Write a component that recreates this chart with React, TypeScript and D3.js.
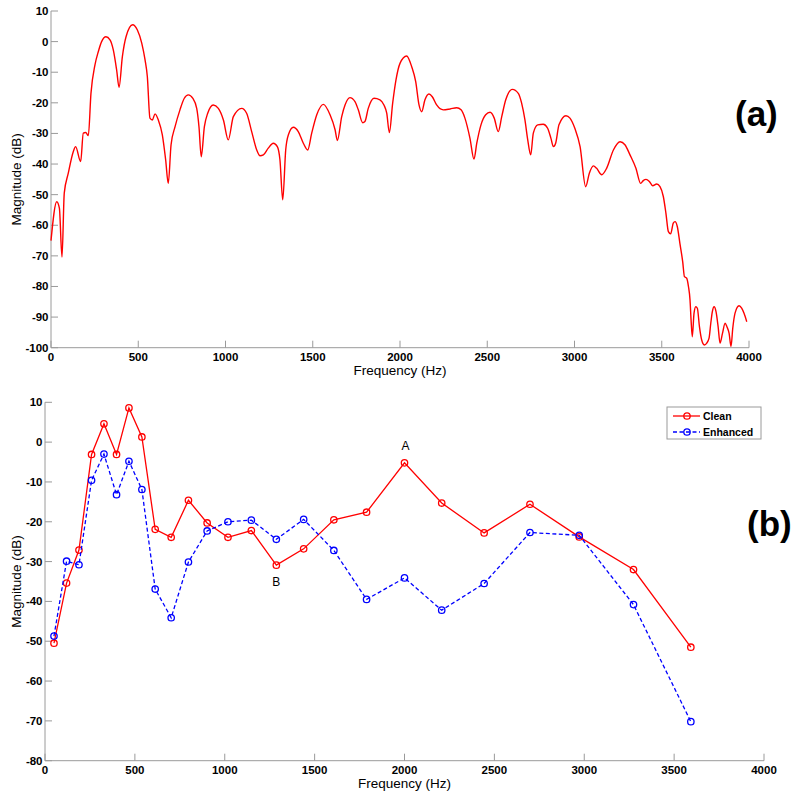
import React from "react";
import * as d3 from "d3";

// Panel (a): magnitude spectrum
const freqA = [0,33,48,63,76,99,128,141,170,185,199,214,229,252,271,290,315,338,357,376,390,409,430,468,495,520,539,552,567,581,596,615,638,657,672,688,711,739,764,787,812,835,848,861,879,898,930,959,988,1016,1045,1093,1121,1150,1179,1198,1217,1245,1274,1297,1312,1328,1345,1360,1389,1417,1446,1471,1494,1523,1561,1599,1628,1641,1666,1685,1713,1742,1761,1786,1799,1818,1851,1885,1908,1924,1939,1958,1977,2000,2038,2067,2090,2109,2124,2143,2166,2185,2210,2248,2287,2325,2350,2372,2401,2424,2440,2464,2491,2516,2540,2563,2583,2606,2644,2678,2697,2716,2732,2749,2764,2789,2821,2846,2865,2879,2892,2911,2951,2974,3003,3032,3064,3085,3108,3127,3156,3184,3223,3261,3289,3318,3352,3379,3394,3410,3429,3448,3471,3490,3509,3524,3538,3551,3566,3576,3589,3604,3620,3630,3643,3653,3662,3668,3675,3685,3695,3704,3716,3729,3744,3758,3771,3781,3790,3800,3811,3823,3834,3848,3863,3873,3886,3897,3907,3920,3943,3958,3971,3987];
const magA = [-65,-52.3,-54.4,-70.4,-49.5,-43,-35.9,-34.3,-39.2,-29.9,-29.7,-30.7,-16.9,-7.6,-3.3,0,1.6,0.6,-2.7,-9.2,-14.9,-4.9,1.6,5.5,3.8,-0.5,-6,-11.4,-25,-25.6,-23.6,-25.6,-30.5,-38.6,-46.3,-33.7,-27.8,-22.3,-18.5,-17.4,-18.5,-21.8,-27.8,-37.6,-27.8,-23.4,-20.7,-21.8,-25.6,-32.1,-24.5,-21.8,-23.4,-29.4,-35.4,-37.3,-37,-34.8,-33.2,-34.3,-38.6,-51.7,-35.4,-30.5,-28,-29.4,-33.2,-35.4,-29.9,-23.9,-20.5,-23.9,-28.8,-32.3,-24.5,-20.7,-18.3,-19.6,-22.3,-26.5,-26.1,-21.8,-18.5,-19,-20.7,-23.4,-29.7,-20.1,-12.5,-7.1,-4.7,-8.2,-13.1,-20.7,-22.9,-19,-17.1,-18,-20.7,-22.3,-22,-21.6,-22.3,-25,-31.6,-38.4,-33.2,-27.2,-23.9,-23.1,-25,-29.4,-24.5,-19,-15.6,-16.9,-20.1,-25.6,-32.1,-37,-29.9,-27.2,-27,-28.3,-31.6,-34.3,-33.2,-27.2,-24.2,-25,-28.5,-34.3,-47.4,-43,-40.6,-41.4,-43.5,-41.4,-35.4,-32.7,-33.7,-37,-41.4,-46.3,-45.4,-45,-45.7,-47.1,-46.5,-47.4,-50.6,-56.1,-62.1,-62.8,-59.3,-58.8,-60.4,-65.9,-71.9,-76.8,-77.3,-80,-84.4,-90.9,-96.4,-88.7,-86.6,-87.1,-93.1,-97.5,-99.1,-98.5,-96.9,-92,-88.2,-86.6,-88.2,-93.1,-98.5,-95.3,-92,-93.1,-95.3,-99.6,-93.6,-88.7,-86.3,-87.1,-88.7,-91.5];

// Panel (b): band magnitudes
const freqB = [50,120,189,259,328,398,467,539,613,702,798,902,1018,1148,1287,1439,1607,1789,2000,2207,2443,2698,2972,3274,3593];
const clean = [-50.5,-35.4,-27.1,-3.1,4.6,-3.1,8.6,1.3,-21.9,-23.9,-14.6,-20.3,-23.9,-22.2,-30.9,-26.8,-19.5,-17.6,-5.2,-15.3,-22.8,-15.6,-23.8,-32.0,-51.5];
const enhanced = [-48.7,-29.9,-30.8,-9.6,-3.0,-13.2,-4.8,-11.9,-36.9,-44.1,-30.1,-22.3,-20.0,-19.6,-24.4,-19.4,-27.2,-39.5,-34.1,-42.2,-35.5,-22.7,-23.4,-40.8,-70.2];

const xTicks = [0,500,1000,1500,2000,2500,3000,3500,4000];
const yTicksA = [10,0,-10,-20,-30,-40,-50,-60,-70,-80,-90,-100];
const yTicksB = [10,0,-10,-20,-30,-40,-50,-60,-70,-80];
const seriesNames = ["Clean", "Enhanced"];

const FONT = "'Liberation Sans', Arial, Helvetica, sans-serif";
const AXIS_COLOR = "#9a9a9a";

type Lin = d3.ScaleLinear<number, number>;

function Axes({ x, y, yTicks, xLabel, yLabel }: { x: Lin; y: Lin; yTicks: number[]; xLabel: string; yLabel: string }) {
  const [x0, x1] = x.range();
  const [yb, yt] = y.range();
  const tl = 7;
  return (
    <g>
      <line x1={x0} x2={x1} y1={yb} y2={yb} stroke={AXIS_COLOR} strokeWidth={1} />
      <line x1={x0} x2={x0} y1={yb} y2={yt} stroke={AXIS_COLOR} strokeWidth={1} />
      {xTicks.map((t) => (
        <g key={"x" + t}>
          <line x1={x(t)} x2={x(t)} y1={yb} y2={yb - tl} stroke={AXIS_COLOR} strokeWidth={1} />
          <text x={x(t)} y={yb + 13.5} textAnchor="middle" fontFamily={FONT} fontWeight="bold" fontSize={11.5} fill="#000">{t}</text>
        </g>
      ))}
      {yTicks.map((t) => (
        <g key={"y" + t}>
          <line x1={x0} x2={x0 + tl} y1={y(t)} y2={y(t)} stroke={AXIS_COLOR} strokeWidth={1} />
          <text x={x0 - 2.5} y={y(t) + 4} textAnchor="end" fontFamily={FONT} fontWeight="bold" fontSize={11.5} fill="#000">{t}</text>
        </g>
      ))}
      <text x={(x0 + x1) / 2} y={yb + 27.5} textAnchor="middle" fontFamily={FONT} fontSize={13.5} fill="#000">{xLabel}</text>
      <text transform={`translate(21,${(yb + yt) / 2}) rotate(-90)`} textAnchor="middle" fontFamily={FONT} fontSize={13.5} fill="#000">{yLabel}</text>
    </g>
  );
}

export default function App() {
  const xA = d3.scaleLinear().domain([0, 4000]).range([51, 749]);
  const yA = d3.scaleLinear().domain([-100, 10]).range([347.7, 11]);
  const xB = d3.scaleLinear().domain([0, 4000]).range([45, 764]);
  const yB = d3.scaleLinear().domain([-80, 10]).range([760.7, 402.3]);

  const ptsA = freqA.map((f, i) => [f, magA[i]] as [number, number]);
  const lineA = d3.line<[number, number]>().x((d) => xA(d[0])).y((d) => yA(d[1])).curve(d3.curveMonotoneX);
  const lineB = d3.line<number>().x((_, i) => xB(freqB[i])).y((d) => yB(d));

  const series = [
    { name: seriesNames[0], vals: clean, color: "#ff0000", dash: undefined as string | undefined },
    { name: seriesNames[1], vals: enhanced, color: "#0000ff", dash: "4,2.5" },
  ];

  const legX = 667, legY = 407;

  return (
    <svg width={800} height={800} style={{ position: "absolute", left: 0, top: 0, background: "#fff" }}>
      <rect x={0} y={0} width={800} height={800} fill="#fff" />
      {/* Panel (a) */}
      <Axes x={xA} y={yA} yTicks={yTicksA} xLabel="Frequency (Hz)" yLabel="Magnitude (dB)" />
      <path d={lineA(ptsA) || ""} fill="none" stroke="#ff0000" strokeWidth={1.4} strokeLinejoin="round" />
      <text x={735} y={126} fontFamily={FONT} fontWeight="bold" fontSize={35} fill="#000">(a)</text>

      {/* Panel (b) */}
      <Axes x={xB} y={yB} yTicks={yTicksB} xLabel="Frequency (Hz)" yLabel="Magnitude (dB)" />
      {series.map((s) => (
        <g key={s.name}>
          <path d={lineB(s.vals) || ""} fill="none" stroke={s.color} strokeWidth={1.3} strokeDasharray={s.dash} />
          {s.vals.map((v, i) => (
            <circle key={i} cx={xB(freqB[i])} cy={yB(v)} r={3.2} fill="none" stroke={s.color} strokeWidth={1.3} />
          ))}
        </g>
      ))}
      <text x={xB(2005)} y={yB(-1.9)} textAnchor="middle" fontFamily={FONT} fontSize={12} fill="#000">A</text>
      <text x={xB(1287)} y={yB(-36.2)} textAnchor="middle" fontFamily={FONT} fontSize={12} fill="#000">B</text>
      <text x={747} y={536} fontFamily={FONT} fontWeight="bold" fontSize={35} fill="#000">(b)</text>

      {/* Legend */}
      <rect x={legX} y={legY} width={94} height={32} fill="#fff" stroke={AXIS_COLOR} strokeWidth={1} />
      {series.map((s, i) => {
        const cy = legY + 9 + i * 16;
        return (
          <g key={"leg" + s.name}>
            <line x1={legX + 6} x2={legX + 33} y1={cy} y2={cy} stroke={s.color} strokeWidth={1.3} strokeDasharray={s.dash} />
            <circle cx={legX + 20} cy={cy} r={3.2} fill="none" stroke={s.color} strokeWidth={1.3} />
            <text x={legX + 36} y={cy + 4} fontFamily={FONT} fontWeight="bold" fontSize={10.5} fill="#000">{s.name}</text>
          </g>
        );
      })}
    </svg>
  );
}
